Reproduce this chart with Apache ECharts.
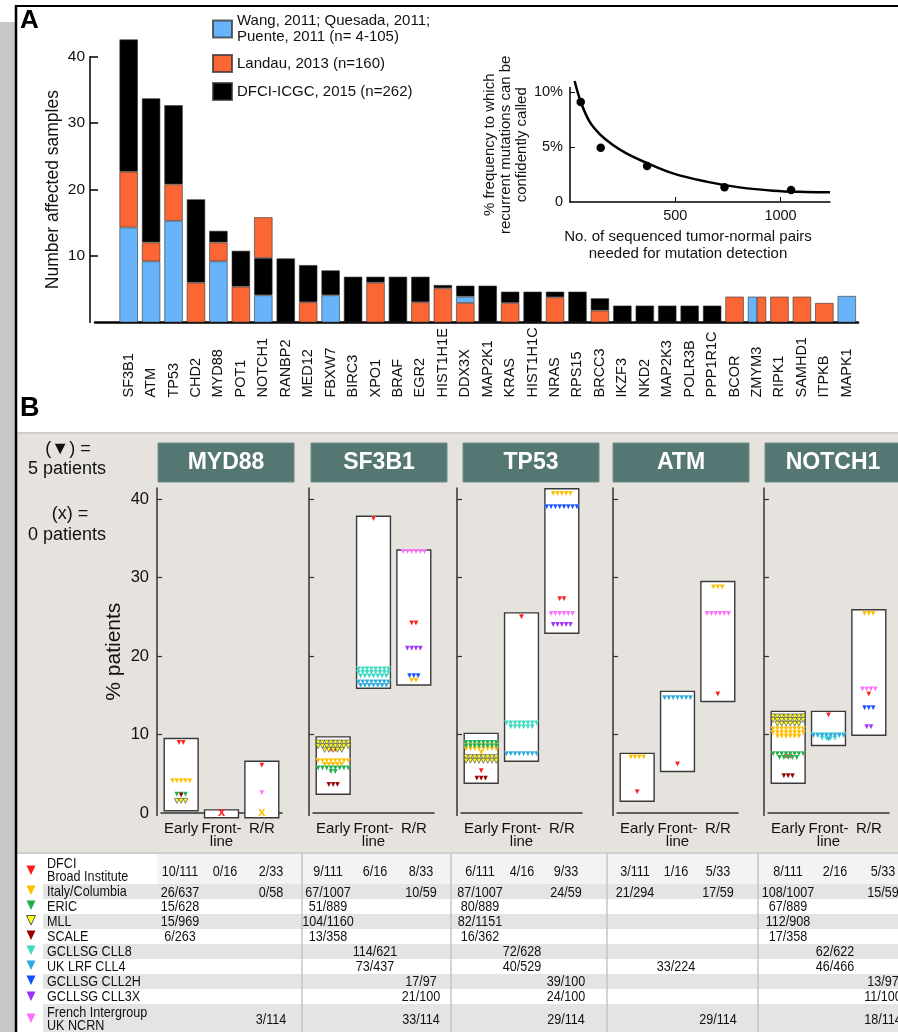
<!DOCTYPE html>
<html><head><meta charset="utf-8">
<script src="https://cdn.jsdelivr.net/npm/echarts@6/dist/echarts.min.js"></script>
<style>html,body{margin:0;padding:0;background:#fff}#c{width:898px;height:1032px}</style>
</head><body><div id="c"></div>
<script>
// ================= DATA =================
// Panel A: number of affected samples per gene
const genes = ['SF3B1','ATM','TP53','CHD2','MYD88','POT1','NOTCH1','RANBP2','MED12','FBXW7','BIRC3','XPO1','BRAF','EGR2','HIST1H1E','DDX3X','MAP2K1','KRAS','HIST1H1C','NRAS','RPS15','BRCC3','IKZF3','NKD2','MAP2K3','POLR3B','PPP1R1C','BCOR','ZMYM3','RIPK1','SAMHD1','ITPKB','MAPK1'];
const orangeBase = [0,0,0,0,0,0,0,0,0,0,0,0,0,0,0,2.95,0,0,0,0,0,0,0,0,0,0,0,0,0,0,0,0,0];
const blueVals   = [14.3,9.2,15.3,0,9.2,0,4.1,0,0,4.1,0,0,0,0,0,0.95,0,0,0,0,0,0,0,0,0,0,0,0,0,0,0,0,4.0];
const orangeVals = [8.4,2.85,5.5,6.0,2.85,5.4,0,0,3.05,0,0,6.0,0,3.05,5.15,0,0,2.95,0,3.8,0,1.8,0,0,0,0,0,3.9,0,3.9,3.9,2.95,0];
const blackVals  = [19.9,21.7,11.9,12.55,1.75,5.4,5.6,9.65,5.6,3.75,6.9,0.9,6.9,3.85,0.5,1.65,5.55,1.7,4.65,0.85,4.65,1.85,2.55,2.55,2.55,2.55,2.55,0,0,0,0,0,0];
const orangeTop  = [0,0,0,0,0,0,6.15,0,0,0,0,0,0,0,0,0,0,0,0,0,0,0,0,0,0,0,0,0,0,0,0,0,0];
const blueSplit  = [0,0,0,0,0,0,0,0,0,0,0,0,0,0,0,0,0,0,0,0,0,0,0,0,0,0,0,0,3.9,0,0,0,0];
const orangeSplit= [0,0,0,0,0,0,0,0,0,0,0,0,0,0,0,0,0,0,0,0,0,0,0,0,0,0,0,0,3.9,0,0,0,0];
const L1 = 'Wang, 2011; Quesada, 2011;\nPuente, 2011 (n= 4-105)';
const L2 = 'Landau, 2013 (n=160)';
const L3 = 'DFCI-ICGC, 2015 (n=262)';

// Inset: frequency vs number of pairs
const curveX = [22,51,93,141,204,268,362,489,647,805,964,1122,1235];
const curveY = [11.0,9.12,7.3,6.18,5.18,4.42,3.57,2.6,1.85,1.33,1.03,0.91,0.88];
const ptsX = [51,146,366,734,1050];
const ptsY = [9.1,4.94,3.27,1.34,1.09];

// Panel B
const bGenes = ['MYD88','SF3B1','TP53','ATM','NOTCH1'];
const stages = ['Early','Front-\nline','R/R'];
const studies = ['DFCI\nBroad Institute','Italy/Columbia','ERIC','MLL','SCALE','GCLLSG CLL8','UK LRF CLL4','GCLLSG CLL2H','GCLLSG CLL3X','French Intergroup\nUK NCRN'];
// boxes: [stage, low %, high %]
const boxMYD88  = [[0,0.3,9.5],[1,-0.6,0.4],[2,-0.6,6.6]];
const boxSF3B1  = [[0,2.4,9.7],[1,15.9,37.8],[2,16.3,33.5]];
const boxTP53   = [[0,3.8,10.15],[1,6.6,25.5],[2,22.9,41.3]];
const boxATM    = [[0,1.5,7.6],[1,5.3,15.5],[2,14.2,29.5]];
const boxNOTCH1 = [[0,3.8,12.95],[1,8.6,12.95],[2,9.9,25.9]];
// triangles: [stage, study, %, number of triangles (0 = x)]
const triMYD88  = [[0,0,9.0,2],[0,1,4.1,5],[0,2,2.4,3],[0,3,1.55,3],[0,4,2.3,1],[1,0,0,0],[2,0,6.1,1],[2,1,0,0],[2,9,2.6,1]];
const triSF3B1  = [[0,0,8.1,2],[0,1,6.65,13],[0,2,5.74,10],[0,3,8.97,21],[0,4,3.63,3],[1,0,37.5,1],[1,5,18.36,23],[1,6,16.7,15],[2,0,24.2,2],[2,1,16.9,2],[2,7,17.5,3],[2,8,21.0,4],[2,9,33.3,6]];
const triTP53   = [[0,0,5.4,1],[0,1,8.64,17],[0,2,9.0,16],[0,3,7.12,16],[0,4,4.42,3],[1,0,25.0,1],[1,5,11.46,14],[1,6,7.56,8],[2,0,27.3,2],[2,1,40.7,5],[2,7,39.0,8],[2,8,24.0,5],[2,9,25.4,6]];
const triATM    = [[0,0,2.7,1],[0,1,7.14,4],[1,0,6.25,1],[1,6,14.7,7],[2,0,15.15,1],[2,1,28.8,3],[2,9,25.4,6]];
const triNOTCH1 = [[0,0,7.2,2],[0,1,10.7,22],[0,2,7.54,13],[0,3,12.3,22],[0,4,4.75,3],[1,0,12.5,1],[1,5,9.97,12],[1,6,9.87,9],[2,0,15.15,1],[2,1,25.4,3],[2,7,13.4,3],[2,8,11.0,2],[2,9,15.8,4]];
// table text (rows = studies, cols = Early / Front-line / R/R)
const tblMYD88  = [['10/111','0/16','2/33'],['26/637','','0/58'],['15/628','',''],['15/969','',''],['6/263','',''],['','',''],['','',''],['','',''],['','',''],['','','3/114']];
const tblSF3B1  = [['9/111','6/16','8/33'],['67/1007','','10/59'],['51/889','',''],['104/1160','',''],['13/358','',''],['','114/621',''],['','73/437',''],['','','17/97'],['','','21/100'],['','','33/114']];
const tblTP53   = [['6/111','4/16','9/33'],['87/1007','','24/59'],['80/889','',''],['82/1151','',''],['16/362','',''],['','72/628',''],['','40/529',''],['','','39/100'],['','','24/100'],['','','29/114']];
const tblATM    = [['3/111','1/16','5/33'],['21/294','','17/59'],['','',''],['','',''],['','',''],['','',''],['','33/224',''],['','',''],['','',''],['','','29/114']];
const tblNOTCH1 = [['8/111','2/16','5/33'],['108/1007','','15/59'],['67/889','',''],['112/908','',''],['17/358','',''],['','62/622',''],['','46/466',''],['','','13/97'],['','','11/100'],['','','18/114']];

// ================= STYLE / LAYOUT =================
const FONT = 'Liberation Sans, Arial, sans-serif';
const BLUE = '#68b4fb', ORANGE = '#fc6634', BLACK = '#000000';
const studyColors = ['#ff1a1a','#ffbf00','#1fae4a','#ffff1a','#990000','#3dd8c0','#2aa9dc','#1450ff','#9b30ff','#ff6dff'];
const boxes = [boxMYD88, boxSF3B1, boxTP53, boxATM, boxNOTCH1];
const tris = [triMYD88, triSF3B1, triTP53, triATM, triNOTCH1];
const tbls = [tblMYD88, tblSF3B1, tblTP53, tblATM, tblNOTCH1];

const cats = [''].concat(genes);
const pad = arr => ['-'].concat(arr.map(v => v ? v : '-'));
const barBorder = {borderColor:'rgba(50,50,50,0.75)', borderWidth:0.8};

const grids = [
  {left:95, right:40, top:56.7, bottom:1032-322.5},
  {left:570, right:68, top:87.6, bottom:1032-202}
];
const xAxes = [
  {type:'category', gridIndex:0, data:cats, axisLine:{lineStyle:{color:'#000', width:2.5}}, axisTick:{show:false},
   axisLabel:{interval:0, rotate:90, align:'left', verticalAlign:'middle', margin:75, fontSize:14.5, color:'#111'}},
  {type:'category', gridIndex:0, data:cats, show:false},
  {type:'value', gridIndex:1, min:0, max:1235, splitLine:{show:false},
   axisLine:{show:true, lineStyle:{color:'#000', width:1.5}},
   axisTick:{show:true, inside:true, length:5, customValues:[500,1000], lineStyle:{color:'#000'}},
   axisLabel:{customValues:[500,1000], formatter:v => String(v), fontSize:14.5, color:'#111', margin:6},
   name:'No. of sequenced tumor-normal pairs\nneeded for mutation detection', nameLocation:'middle', nameGap:26,
   nameTextStyle:{fontSize:15, color:'#111', lineHeight:17, padding:[0,24,0,0]}}
];
const yAxes = [
  {type:'value', gridIndex:0, min:0, max:40, interval:10, offset:5, splitLine:{show:false},
   axisLine:{show:true, lineStyle:{color:'#000', width:1.5}},
   axisTick:{show:true, inside:true, length:8, lineStyle:{color:'#000', width:1.5}},
   axisLabel:{showMinLabel:false, fontSize:15.5, color:'#111', margin:5},
   name:'Number affected samples', nameLocation:'middle', nameGap:28, nameMoveOverlap:false,
   nameTextStyle:{fontSize:17.5, color:'#111'}},
  {type:'value', gridIndex:1, min:0, max:10.4, splitLine:{show:false},
   axisLine:{show:true, lineStyle:{color:'#000', width:1.5}},
   axisTick:{show:true, inside:true, length:5, customValues:[5,10], lineStyle:{color:'#000'}},
   axisLabel:{customValues:[0,5,10], formatter:v => v === 0 ? '0' : v + '%', fontSize:14.5, color:'#111', margin:7},
   name:'% frequency to which\nrecurrent mutations can be\nconfidently called', nameLocation:'middle', nameGap:40,
   nameTextStyle:{fontSize:15, color:'#111', lineHeight:16}}
];

const series = [
  {type:'bar', name:L2, xAxisIndex:0, yAxisIndex:0, stack:'a', data:pad(orangeBase), barWidth:18.5, clip:false, itemStyle:Object.assign({color:ORANGE}, barBorder)},
  {type:'bar', name:L1, xAxisIndex:0, yAxisIndex:0, stack:'a', data:pad(blueVals), barWidth:18.5, clip:false, itemStyle:Object.assign({color:BLUE}, barBorder)},
  {type:'bar', name:L2, xAxisIndex:0, yAxisIndex:0, stack:'a', data:pad(orangeVals), barWidth:18.5, clip:false, itemStyle:Object.assign({color:ORANGE}, barBorder)},
  {type:'bar', name:L3, xAxisIndex:0, yAxisIndex:0, stack:'a', data:pad(blackVals), barWidth:18.5, clip:false, itemStyle:Object.assign({color:BLACK}, barBorder)},
  {type:'bar', name:L2, xAxisIndex:0, yAxisIndex:0, stack:'a', data:pad(orangeTop), barWidth:18.5, clip:false, itemStyle:Object.assign({color:ORANGE}, barBorder)},
  {type:'bar', name:L1, xAxisIndex:1, yAxisIndex:0, data:pad(blueSplit), barWidth:9.25, barGap:'0%', itemStyle:Object.assign({color:BLUE}, barBorder)},
  {type:'bar', name:L2, xAxisIndex:1, yAxisIndex:0, data:pad(orangeSplit), barWidth:9.25, barGap:'0%', itemStyle:Object.assign({color:ORANGE}, barBorder)},
  {type:'line', xAxisIndex:2, yAxisIndex:1, data:curveX.map((x,i)=>[x,curveY[i]]), smooth:0.4, symbol:'none', clip:false,
   lineStyle:{color:'#000', width:2.5}},
  {type:'scatter', xAxisIndex:2, yAxisIndex:1, data:ptsX.map((x,i)=>[x,ptsY[i]]), symbolSize:8.5, z:5, itemStyle:{color:'#000', opacity:1}}
];

function boxRender(params, api){
  const x = api.value(0);
  const lo = api.coord([x, api.value(1)]);
  const hi = api.coord([x, api.value(2)]);
  const w = api.size([1,0])[0]*0.84;
  return {type:'rect', shape:{x:lo[0]-w/2, y:hi[1], width:w, height:lo[1]-hi[1]},
          style:{fill:'#ffffff', stroke:'#3a3a3a', lineWidth:1.4}};
}
function triRender(params, api){
  const col = api.value(0), st = api.value(1), pct = api.value(2), count = api.value(3);
  const c = api.coord([col, pct]);
  const color = studyColors[st];
  if (!count) {
    return {type:'text', style:{text:'x', x:c[0], y:c[1]-1, fill:color, font:'bold 13px Liberation Sans',
            align:'center', verticalAlign:'middle', textAlign:'center', textVerticalAlign:'middle'}};
  }
  const perRow = 8, dx = 4.3, dy = 3.6, hw = 2.4, hh = 2.5;
  const children = [];
  for (let i = 0; i < count; i++) {
    const r = Math.floor(i / perRow);
    const inRow = Math.min(perRow, count - r*perRow);
    const k = i - r*perRow;
    const cx = c[0] + (k - (inRow-1)/2)*dx;
    const cy = c[1] + r*dy;
    children.push({type:'polygon', shape:{points:[[cx-hw,cy-hh],[cx+hw,cy-hh],[cx,cy+hh]]},
      style:{fill:color, stroke: st === 3 ? '#555' : 'rgba(255,255,255,0.35)', lineWidth: st === 3 ? 0.7 : 0.4}});
  }
  return {type:'group', children};
}

const bLefts = [161, 313, 461, 617, 768];
bGenes.forEach((g, i) => {
  grids.push({left:bLefts[i], width:121, top:488, height:327.4});
  xAxes.push({type:'category', gridIndex:2+i, data:stages,
    axisLine:{lineStyle:{color:'#333', width:1.5}},
    axisTick:{alignWithLabel:true, length:5, lineStyle:{color:'#333', width:1.2}},
    axisLabel:{interval:0, fontSize:15, color:'#111', lineHeight:13, margin:7}});
  yAxes.push({type:'value', gridIndex:2+i, min:-0.3, max:41.4, offset:4, splitLine:{show:false},
    axisLine:{show:true, lineStyle:{color:'#333', width:1.5}},
    axisTick:{show:true, inside:true, length:5, customValues:[10,20,30,40], lineStyle:{color:'#333', width:1.2}},
    axisLabel:{show:i === 0, customValues:[0,10,20,30,40], fontSize:16.5, color:'#111', margin:8},
    name: i === 0 ? '% patients' : '', nameLocation:'middle', nameGap:32, nameMoveOverlap:false,
    nameTextStyle:{fontSize:21, color:'#111'}});
  series.push({type:'custom', xAxisIndex:3+i, yAxisIndex:2+i, data:boxes[i], encode:{x:0, y:[1,2]}, renderItem:boxRender, clip:false, z:3});
  series.push({type:'custom', xAxisIndex:3+i, yAxisIndex:2+i, data:tris[i], encode:{x:0, y:2}, renderItem:triRender, clip:false, z:4});
});

// ================= GRAPHICS (frame, headers, table) =================
const G = [];
const txt = (x, y, text, font, fill, align, extra) => Object.assign({type:'text', x:x, y:y,
  style:{text:text, x:0, y:0, font:font, fill:fill||'#111', align:align||'left', textAlign:align||'left',
         verticalAlign:'middle', textVerticalAlign:'middle', lineHeight:13}}, extra||{});
G.push({type:'rect', shape:{x:0, y:22, width:15, height:1010}, style:{fill:'#c8c8c8'}, z:-10});
G.push({type:'rect', shape:{x:17, y:433, width:881, height:420}, style:{fill:'#e6e3de'}, z:-10});
G.push({type:'line', shape:{x1:17, y1:433, x2:898, y2:433}, style:{stroke:'#cdcdcd', lineWidth:2}, z:-9});
G.push({type:'line', shape:{x1:16, y1:5, x2:16, y2:1032}, style:{stroke:'#000', lineWidth:2.5}, z:20});
G.push({type:'line', shape:{x1:15, y1:6, x2:898, y2:6}, style:{stroke:'#000', lineWidth:2}, z:20});
G.push(txt(20, 21, 'A', 'bold 26px Liberation Sans', '#000'));
G.push(txt(20, 409, 'B', 'bold 27px Liberation Sans', '#000'));
// panel B headers
const hdrX = [158, 311, 463, 613, 765];
bGenes.forEach((g, i) => {
  G.push({type:'rect', shape:{x:hdrX[i], y:443, width:136, height:39}, style:{fill:'#557773', stroke:'#6f8e8a', lineWidth:1}, z:5});
  G.push(txt(hdrX[i]+68, 463, g, 'bold 23px Liberation Sans', '#ffffff', 'center', {z:6}));
});
G.push(txt(68, 449, '(\u25BC) =', '18px Liberation Sans', '#111', 'center'));
G.push(txt(67, 469, '5 patients', '18px Liberation Sans', '#111', 'center'));
G.push(txt(70, 514, '(x) =', '18px Liberation Sans', '#111', 'center'));
G.push(txt(67, 535, '0 patients', '18px Liberation Sans', '#111', 'center'));
// table
G.push({type:'rect', shape:{x:17, y:853, width:881, height:179}, style:{fill:'#ffffff'}, z:-8});
G.push({type:'rect', shape:{x:157, y:854, width:741, height:30}, style:{fill:'#f3f3f3'}, z:-7});
[[884,15],[914,15],[944,15],[974,15],[1004,28]].forEach(b => {
  G.push({type:'rect', shape:{x:43, y:b[0], width:855, height:b[1]}, style:{fill:'#e4e4e4'}, z:-7});
});
G.push({type:'line', shape:{x1:17, y1:853, x2:898, y2:853}, style:{stroke:'#cfcfcf', lineWidth:2}, z:-6});
[302, 451, 607, 758].forEach(x => {
  G.push({type:'line', shape:{x1:x, y1:853, x2:x, y2:1032}, style:{stroke:'#c4c4c4', lineWidth:1.5}, z:-6});
});
const legY = [870, 890, 905, 920, 935, 950, 965, 980, 996, 1018];
const labY = [870, 892, 907, 922, 937, 952, 967, 982, 997, 1019];
const numY = [872, 892.5, 907, 922, 937, 952, 967, 982, 997, 1020];
studies.forEach((s, r) => {
  const cy = legY[r];
  G.push({type:'polygon', shape:{points:[[26.5,cy-4.5],[35.5,cy-4.5],[31,cy+5]]},
    style:{fill:studyColors[r], stroke: r === 3 ? '#444' : null, lineWidth:0.9}});
  G.push(txt(47, labY[r], s, '15px Liberation Sans', '#111', 'left', {scaleX:0.84}));
});
const colX = [[180,225,271],[328,375,421],[480,522,566],[635,676,718],[788,835,883]];
tbls.forEach((t, gi) => {
  t.forEach((row, r) => {
    row.forEach((v, c) => {
      if (!v) return;
      G.push(txt(colX[gi][c], numY[r], v, '15px Liberation Sans', '#111', 'center', {scaleX:0.84}));
    });
  });
});

const option = {
  animation:false,
  textStyle:{fontFamily:FONT},
  legend:{data:[L1, L2, L3], orient:'vertical', left:207, top:8, itemWidth:19, itemHeight:17, itemGap:9, icon:'rect',
          selectedMode:false, textStyle:{fontSize:15, color:'#111', lineHeight:16}},
  grid:grids, xAxis:xAxes, yAxis:yAxes, series:series,
  graphic:{elements:G}
};
const chart = echarts.init(document.getElementById('c'), null, {renderer:'canvas'});
chart.setOption(option);
</script>
</body></html>
